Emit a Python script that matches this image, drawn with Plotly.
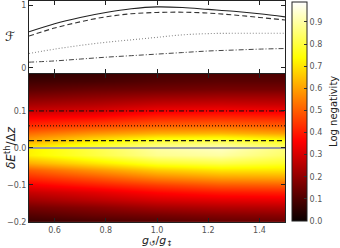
import plotly.graph_objects as go

# ---- top panel: fidelity curves ----
ratio = [0.5, 0.6, 0.7, 0.8, 0.9, 1.0, 1.1, 1.2, 1.3, 1.4, 1.5]
F_solid = [0.58, 0.71, 0.81, 0.89, 0.95, 0.98, 0.97, 0.94, 0.91, 0.87, 0.82]
F_dash = [0.51, 0.64, 0.74, 0.82, 0.87, 0.89, 0.895, 0.88, 0.85, 0.81, 0.77]
F_dot = [0.23, 0.30, 0.36, 0.41, 0.45, 0.49, 0.53, 0.55, 0.555, 0.555, 0.555]
F_dashdot = [0.09, 0.11, 0.14, 0.17, 0.195, 0.22, 0.245, 0.27, 0.285, 0.30, 0.31]

# ---- bottom panel: log negativity map ----
map_x = [0.5, 0.75, 1.0, 1.25, 1.5]
map_y = [-0.20, -0.18, -0.16, -0.14, -0.12, -0.10, -0.08, -0.06, -0.04, -0.02,
         0.00, 0.02, 0.04, 0.06, 0.08, 0.10, 0.12, 0.14, 0.16, 0.18, 0.20]
col_050 = [0.07, 0.11, 0.16, 0.22, 0.28, 0.35, 0.42, 0.50, 0.62, 0.72,
           0.72, 0.62, 0.52, 0.43, 0.36, 0.29, 0.23, 0.17, 0.12, 0.08, 0.05]
col_075 = [0.09, 0.14, 0.19, 0.26, 0.32, 0.40, 0.48, 0.58, 0.70, 0.80,
           0.81, 0.72, 0.58, 0.47, 0.38, 0.31, 0.25, 0.19, 0.14, 0.09, 0.07]
col_100 = [0.11, 0.16, 0.23, 0.30, 0.37, 0.45, 0.55, 0.66, 0.78, 0.88,
           0.90, 0.80, 0.62, 0.51, 0.42, 0.35, 0.28, 0.21, 0.15, 0.11, 0.09]
col_125 = [0.13, 0.18, 0.25, 0.32, 0.40, 0.49, 0.59, 0.70, 0.81, 0.90,
           0.93, 0.82, 0.63, 0.52, 0.43, 0.36, 0.29, 0.22, 0.16, 0.12, 0.10]
col_150 = [0.14, 0.19, 0.26, 0.33, 0.41, 0.50, 0.60, 0.70, 0.78, 0.84,
           0.86, 0.77, 0.60, 0.50, 0.42, 0.35, 0.28, 0.22, 0.16, 0.12, 0.10]

# detuning levels of the four cuts (solid, dashed, dotted, dash-dot)
cut_levels = [0.0, 0.02, 0.06, 0.1]

x_ticks = [0.6, 0.8, 1.0, 1.2, 1.4]
x_ticktext = ["0.6", "0.8", "1.0", "1.2", "1.4"]
y_ticks = [-0.2, -0.1, 0.0, 0.1]
y_ticktext = ["\u22120.2", "\u22120.1", "0.0", "0.1"]
cb_ticks = [0.0, 0.1, 0.2, 0.3, 0.4, 0.5, 0.6, 0.7, 0.8, 0.9]

cols = [col_050, col_075, col_100, col_125, col_150]
z = [[cols[j][i] for j in range(len(map_x))] for i in range(len(map_y))]

hot = [[0.0, "rgb(10,0,0)"], [0.365, "rgb(255,0,0)"],
       [0.746, "rgb(255,255,0)"], [1.0, "rgb(255,255,255)"]]

W, H = 340, 248
L, R, T, B = 29, 55, 1, 26
PW, PH = W - L - R, H - T - B


def px(xp, yp):
    return (xp - L) / PW, (H - B - yp) / PH


DASH = "5px,3px"
DOT = "1px,2px"
DASHDOT = "5px,2px,1px,2px"

fig = go.Figure()

styles = [("solid", "#222222", 1.1), (DASH, "#333333", 1.1),
          (DOT, "#888888", 1.1), (DASHDOT, "#444444", 1.0)]
for ys, (d, c, w) in zip([F_solid, F_dash, F_dot, F_dashdot], styles):
    fig.add_trace(go.Scatter(x=ratio, y=ys, mode="lines", xaxis="x", yaxis="y",
                             line=dict(dash=d, color=c, width=w, shape="spline"),
                             showlegend=False, hoverinfo="skip"))

fig.add_trace(go.Heatmap(x=map_x, y=map_y, z=z, xaxis="x2", yaxis="y2",
                         colorscale=hot, zmin=0, zmax=0.99, zsmooth="best",
                         hoverinfo="skip",
                         colorbar=dict(x=(292 - L) / PW, xanchor="left", xpad=0,
                                       y=(H - B - 111.5) / PH, yanchor="middle", ypad=0,
                                       thickness=15, thicknessmode="pixels",
                                       len=219, lenmode="pixels",
                                       outlinewidth=1, outlinecolor="#222",
                                       tickvals=cb_ticks,
                                       ticktext=["%.1f" % v for v in cb_ticks],
                                       ticks="inside", ticklen=3, tickcolor="#333",
                                       tickfont=dict(size=8, color="#555"))))

cut_styles = [("solid", "#999999", 2.0), (DASH, "#111111", 1.2),
              (DOT, "#5a1a00", 1.6), (DASHDOT, "#111111", 1.0)]
for lvl, (d, c, w) in zip(cut_levels, cut_styles):
    fig.add_trace(go.Scatter(x=[0.5, 1.5], y=[lvl, lvl], mode="lines", xaxis="x2", yaxis="y2",
                             line=dict(dash=d, color=c, width=w),
                             showlegend=False, hoverinfo="skip"))

axis_common = dict(showline=True, linecolor="#222", linewidth=1, mirror="allticks",
                   ticks="inside", ticklen=4, tickcolor="#222", showgrid=False,
                   zeroline=False, automargin=False, tickfont=dict(size=8, color="#555"))

annots = []
for text, (xp, yp), ang, size in [
    ("\u2131", (10, 37), 0, 13),
    ("<i>\u03b4E</i><sup>th</sup>/\u0394<i>z</i>", (10, 148), -90, 12),
    ("<i>g</i><sub>\u21ba</sub>/<i>g</i><sub>\u2195</sub>", (157, 241.5), 0, 11),
    ("Log negativity", (333, 112), -90, 10),
]:
    xa, ya = px(xp, yp)
    annots.append(dict(text=text, x=xa, y=ya, xref="paper", yref="paper",
                       xanchor="center", yanchor="middle", textangle=ang,
                       showarrow=False, font=dict(size=size, color="#222")))

fig.update_layout(
    width=W, height=H,
    margin=dict(l=L, r=R, t=T, b=B, autoexpand=False),
    paper_bgcolor="white", plot_bgcolor="white",
    font=dict(family="DejaVu Sans", color="#222"),
    xaxis=dict(domain=[0, 1], anchor="y", range=[0.5, 1.5], tickvals=x_ticks,
               showticklabels=False, **axis_common),
    yaxis=dict(domain=[0.674, 1], anchor="x", range=[-0.085, 1.075], tickvals=[0, 1],
               ticktext=["0", "1"], **axis_common),
    xaxis2=dict(domain=[0, 1], anchor="y2", range=[0.5, 1.5], tickvals=x_ticks,
                ticktext=x_ticktext, **axis_common),
    yaxis2=dict(domain=[0, 0.67], anchor="x2", range=[-0.2, 0.2], tickvals=y_ticks,
                ticktext=y_ticktext, **axis_common),
    annotations=annots,
)

fig.write_html("out.html", config={"displayModeBar": False},
               post_script="document.body.style.margin='0';")
